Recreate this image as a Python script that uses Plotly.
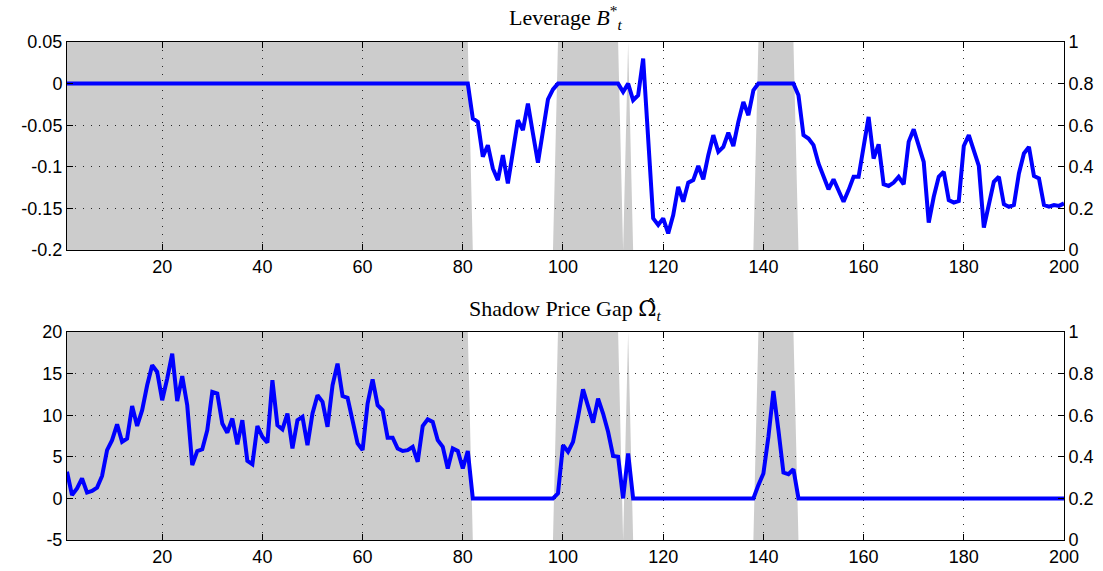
import plotly.graph_objects as go

# ---------------- data ----------------
t = list(range(1, 201))

leverage = [
    0, 0, 0, 0, 0, 0, 0, 0, 0, 0, 0, 0, 0, 0, 0, 0, 0, 0, 0, 0,
    0, 0, 0, 0, 0, 0, 0, 0, 0, 0, 0, 0, 0, 0, 0, 0, 0, 0, 0, 0,
    0, 0, 0, 0, 0, 0, 0, 0, 0, 0, 0, 0, 0, 0, 0, 0, 0, 0, 0, 0,
    0, 0, 0, 0, 0, 0, 0, 0, 0, 0, 0, 0, 0, 0, 0, 0, 0, 0, 0, 0,
    0,
    -0.042, -0.046, -0.088, -0.074, -0.102, -0.116, -0.086, -0.120, -0.082,
    -0.044, -0.056, -0.024, -0.060, -0.095, -0.057, -0.019, -0.007,
    0, 0, 0, 0, 0, 0, 0, 0, 0, 0, 0, 0, 0,
    -0.010, 0, -0.020, -0.014, 0.030, -0.066, -0.162, -0.170, -0.162,
    -0.180, -0.158, -0.124, -0.142, -0.119, -0.116, -0.099, -0.115, -0.086,
    -0.062, -0.082, -0.076, -0.059, -0.075, -0.046, -0.022, -0.038, -0.008,
    0, 0, 0, 0, 0, 0, 0, 0,
    -0.014, -0.062, -0.066, -0.074, -0.096, -0.112, -0.127, -0.115, -0.128,
    -0.142, -0.128, -0.112, -0.112, -0.076, -0.040, -0.090, -0.073, -0.121,
    -0.123, -0.119, -0.112, -0.121, -0.070, -0.055, -0.076, -0.094, -0.167,
    -0.136, -0.112, -0.106, -0.140, -0.143, -0.141, -0.075, -0.062, -0.080,
    -0.099, -0.173, -0.144, -0.118, -0.112, -0.145, -0.148, -0.146, -0.108,
    -0.084, -0.076, -0.111, -0.114, -0.146, -0.148, -0.146, -0.147, -0.144,
]

gap = [
    3.2, 0.4, 1.2, 2.4, 0.7, 0.9, 1.3, 2.7, 5.8, 7.0,
    8.9, 6.8, 7.2, 11.1, 8.7, 10.6, 13.6, 16.0, 15.2, 11.8,
    14.4, 17.4, 11.7, 14.7, 11.2, 4.0, 5.7, 5.9, 8.2, 12.8,
    12.6, 9.0, 7.9, 9.6, 6.5, 9.4, 4.5, 4.1, 8.7, 7.4,
    6.7, 14.2, 8.8, 8.3, 10.2, 6.0, 9.4, 9.8, 6.4, 10.2,
    12.4, 11.6, 8.6, 13.6, 16.2, 12.3, 12.1, 9.4, 6.6, 5.8,
    11.4, 14.3, 11.2, 10.6, 7.3, 7.3, 6.0, 5.7, 5.8, 6.2,
    4.4, 8.7, 9.5, 9.2, 7.0, 6.2, 3.6, 6.0, 5.7, 3.6,
    5.7,
    0, 0, 0, 0, 0, 0, 0, 0, 0, 0, 0, 0, 0, 0, 0, 0, 0,
    0.6, 6.4, 5.6, 6.8, 9.8, 13.1, 11.1, 9.1, 12.0, 10.2,
    8.0, 5.1, 5.0, 0, 5.4,
    0, 0, 0, 0, 0, 0, 0, 0, 0, 0, 0, 0, 0, 0, 0, 0, 0, 0, 0, 0,
    0, 0, 0, 0, 0,
    1.6, 3.0, 7.4, 12.9, 8.2, 3.1, 2.9, 3.5,
    0, 0, 0, 0, 0, 0, 0, 0, 0, 0, 0, 0, 0, 0, 0, 0, 0, 0, 0, 0,
    0, 0, 0, 0, 0, 0, 0, 0, 0, 0, 0, 0, 0, 0, 0, 0, 0, 0, 0, 0,
    0, 0, 0, 0, 0, 0, 0, 0, 0, 0, 0, 0, 0, 0,
]

regime = [
    1, 1, 1, 1, 1, 1, 1, 1, 1, 1, 1, 1, 1, 1, 1, 1, 1, 1, 1, 1,
    1, 1, 1, 1, 1, 1, 1, 1, 1, 1, 1, 1, 1, 1, 1, 1, 1, 1, 1, 1,
    1, 1, 1, 1, 1, 1, 1, 1, 1, 1, 1, 1, 1, 1, 1, 1, 1, 1, 1, 1,
    1, 1, 1, 1, 1, 1, 1, 1, 1, 1, 1, 1, 1, 1, 1, 1, 1, 1, 1, 1,
    1,
    0, 0, 0, 0, 0, 0, 0, 0, 0, 0, 0, 0, 0, 0, 0, 0, 0,
    1, 1, 1, 1, 1, 1, 1, 1, 1, 1, 1, 1, 1,
    0, 1,
    0, 0, 0, 0, 0, 0, 0, 0, 0, 0, 0, 0, 0, 0, 0, 0, 0, 0, 0, 0,
    0, 0, 0, 0, 0,
    1, 1, 1, 1, 1, 1, 1, 1,
    0, 0, 0, 0, 0, 0, 0, 0, 0, 0, 0, 0, 0, 0, 0, 0, 0, 0, 0, 0,
    0, 0, 0, 0, 0, 0, 0, 0, 0, 0, 0, 0, 0, 0, 0, 0, 0, 0, 0, 0,
    0, 0, 0, 0, 0, 0, 0, 0, 0, 0, 0, 0, 0, 0,
]

x_ticks = [20, 40, 60, 80, 100, 120, 140, 160, 180, 200]
x_labels = ["20", "40", "60", "80", "100", "120", "140", "160", "180", "200"]
lev_ticks = [-0.2, -0.15, -0.1, -0.05, 0, 0.05]
lev_labels = ["-0.2", "-0.15", "-0.1", "-0.05", "0", "0.05"]
gap_ticks = [-5, 0, 5, 10, 15, 20]
gap_labels = ["-5", "0", "5", "10", "15", "20"]
right_ticks = [0, 0.2, 0.4, 0.6, 0.8, 1]
right_labels = ["0", "0.2", "0.4", "0.6", "0.8", "1"]
titles = ["Leverage <i>B</i><sup>*</sup><sub><i>t</i></sub>",
          "Shadow Price Gap <span style=\"font-family:'DejaVu Serif'\">\u03a9\u0302</span><sub><i>t</i></sub>"]

# ---------------- figure ----------------
W, H = 1103, 571
ML, MR, MT, MB = 67, 39, 42, 31
ph = H - MT - MB
top_dom = [(H - MB - 250) / ph, 1.0]
bot_dom = [0.0, (H - MB - 332) / ph]

BLUE = "#0000ff"
SHADE = "rgba(0,0,0,0.2)"
tickfont = dict(family="Liberation Sans, Arial, sans-serif", size=18, color="black")
grid = dict(showgrid=True, gridcolor="#303030", gridwidth=1, griddash="1px,7px")

fig = go.Figure()
fig.add_trace(go.Scatter(x=t, y=regime, xaxis="x", yaxis="y", mode="lines",
                         line=dict(width=0, color=SHADE), fill="tozeroy",
                         fillcolor=SHADE, hoverinfo="skip", showlegend=False))
fig.add_trace(go.Scatter(x=t, y=leverage, xaxis="x", yaxis="y2", mode="lines",
                         line=dict(color=BLUE, width=4), showlegend=False))
fig.add_trace(go.Scatter(x=t, y=regime, xaxis="x2", yaxis="y3", mode="lines",
                         line=dict(width=0, color=SHADE), fill="tozeroy",
                         fillcolor=SHADE, hoverinfo="skip", showlegend=False))
fig.add_trace(go.Scatter(x=t, y=gap, xaxis="x2", yaxis="y4", mode="lines",
                         line=dict(color=BLUE, width=4), showlegend=False))

xcommon = dict(range=[1, 200], tickvals=x_ticks, ticktext=x_labels, ticks="inside",
               ticklen=6, tickcolor="black", showline=True, linecolor="black",
               linewidth=1, mirror="ticks", zeroline=False, tickfont=tickfont,
               automargin=False, **grid)
ycommon = dict(ticks="inside", ticklen=6, tickcolor="black", showline=True,
               linecolor="black", linewidth=1, zeroline=False, tickfont=tickfont,
               automargin=False)

fig.update_layout(
    width=W, height=H,
    margin=dict(l=ML, r=MR, t=MT, b=MB, autoexpand=False),
    paper_bgcolor="white", plot_bgcolor="white",
    showlegend=False,
    xaxis=dict(domain=[0, 1], anchor="y", **xcommon),
    yaxis=dict(domain=top_dom, anchor="x", side="right", range=[0, 1],
               tickvals=right_ticks, ticktext=right_labels, **grid, **ycommon),
    yaxis2=dict(overlaying="y", anchor="x", side="left", range=[-0.2, 0.05],
                tickvals=lev_ticks, ticktext=lev_labels, showgrid=False, **ycommon),
    xaxis2=dict(domain=[0, 1], anchor="y3", **xcommon),
    yaxis3=dict(domain=bot_dom, anchor="x2", side="right", range=[0, 1],
                tickvals=right_ticks, ticktext=right_labels, **grid, **ycommon),
    yaxis4=dict(overlaying="y3", anchor="x2", side="left", range=[-5, 20],
                tickvals=gap_ticks, ticktext=gap_labels, showgrid=False, **ycommon),
)

title_font = dict(family="Liberation Serif, DejaVu Serif, serif", size=22, color="black")
for txt, ypix in zip(titles, [17, 310]):
    fig.add_annotation(text=txt, xref="paper", yref="paper", x=0.5,
                       y=(H - MB - ypix) / ph, xanchor="center", yanchor="middle",
                       showarrow=False, font=title_font)

fig.write_html("out.html", config={"displayModeBar": False},
               post_script="document.body.style.margin='0px';")
